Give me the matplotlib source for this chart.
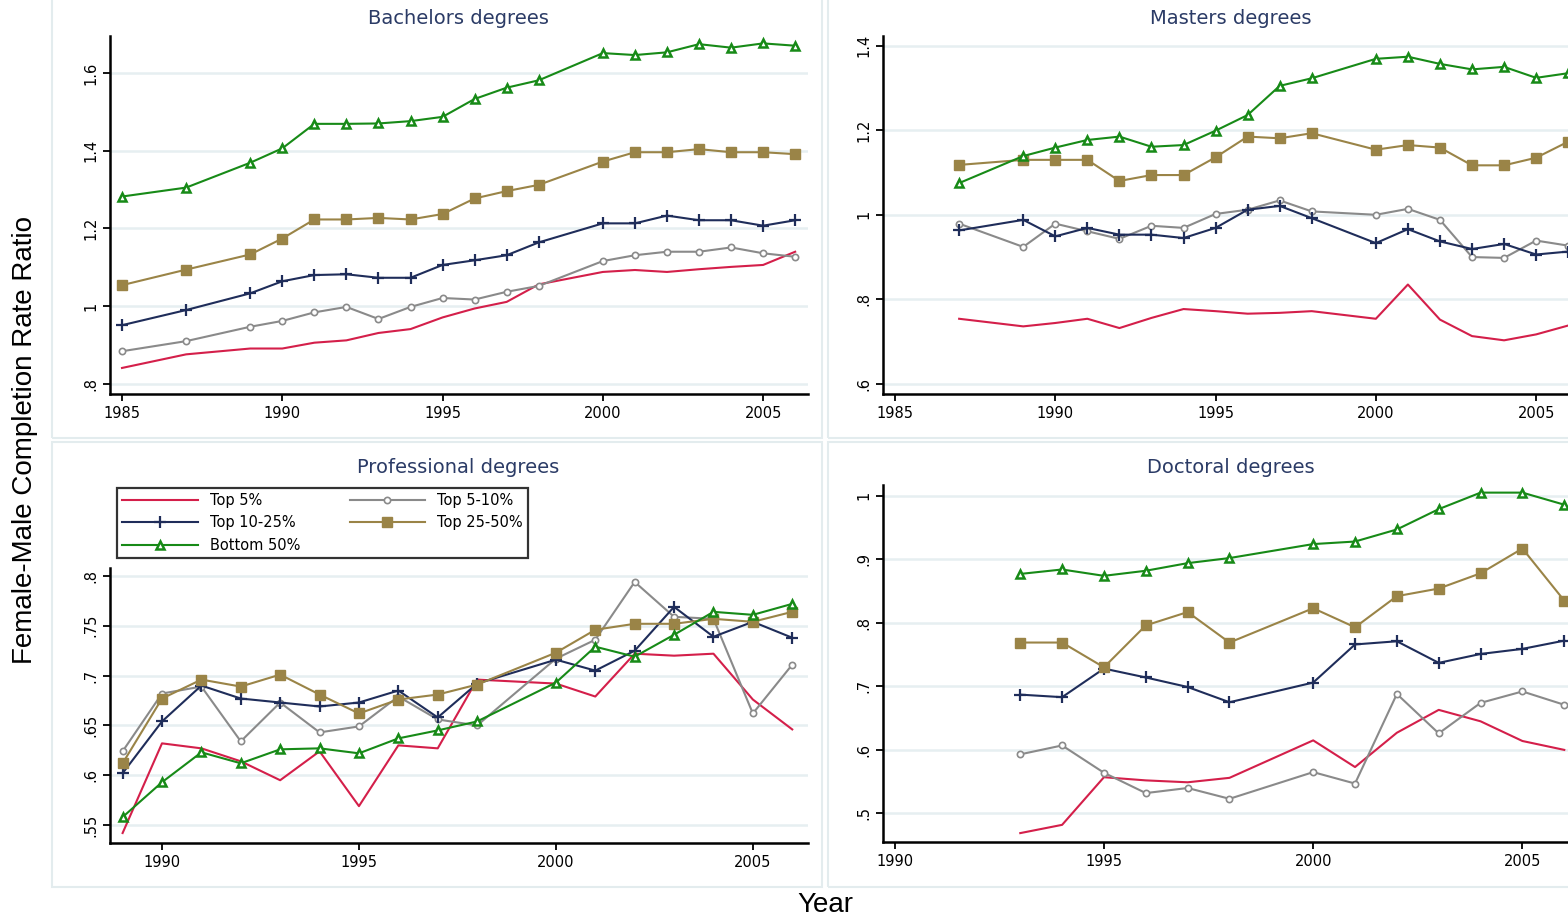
import numpy as np
import matplotlib.pyplot as plt
from matplotlib.patches import Rectangle

W, H = 1568, 922

# --- data ---
series_names = ['Top 5%', 'Top 5-10%', 'Top 10-25%', 'Top 25-50%', 'Bottom 50%']

bach_years = [1985, 1987, 1989, 1990, 1991, 1992, 1993, 1994, 1995, 1996, 1997, 1998,
              2000, 2001, 2002, 2003, 2004, 2005, 2006]
bach_top5 = [0.841, 0.876, 0.891, 0.891, 0.906, 0.912, 0.931, 0.941, 0.971, 0.994, 1.011, 1.056,
             1.088, 1.093, 1.088, 1.095, 1.101, 1.106, 1.140]
bach_top5_10 = [0.884, 0.910, 0.947, 0.962, 0.984, 0.998, 0.967, 0.998, 1.021, 1.017, 1.037, 1.052,
                1.116, 1.131, 1.140, 1.140, 1.151, 1.136, 1.127]
bach_top10_25 = [0.951, 0.990, 1.033, 1.064, 1.080, 1.082, 1.073, 1.073, 1.106, 1.118, 1.131, 1.164,
                 1.213, 1.213, 1.233, 1.221, 1.221, 1.207, 1.221]
bach_top25_50 = [1.054, 1.094, 1.133, 1.174, 1.223, 1.223, 1.227, 1.223, 1.237, 1.277, 1.296, 1.312,
                 1.372, 1.396, 1.396, 1.404, 1.396, 1.396, 1.391]
bach_bottom50 = [1.282, 1.305, 1.369, 1.406, 1.469, 1.469, 1.470, 1.476, 1.487, 1.533, 1.562, 1.581,
                 1.651, 1.646, 1.653, 1.674, 1.665, 1.676, 1.670]

mast_years = [1987, 1989, 1990, 1991, 1992, 1993, 1994, 1995, 1996, 1997, 1998,
              2000, 2001, 2002, 2003, 2004, 2005, 2006]
mast_top5 = [0.754, 0.736, 0.744, 0.754, 0.732, 0.756, 0.777, 0.772, 0.766, 0.768, 0.772,
             0.754, 0.835, 0.752, 0.713, 0.703, 0.717, 0.738]
mast_top5_10 = [0.979, 0.924, 0.979, 0.961, 0.943, 0.974, 0.969, 1.002, 1.012, 1.034, 1.008,
                1.000, 1.014, 0.988, 0.900, 0.898, 0.939, 0.927]
mast_top10_25 = [0.963, 0.988, 0.949, 0.969, 0.953, 0.953, 0.945, 0.969, 1.012, 1.021, 0.992,
                 0.933, 0.966, 0.937, 0.919, 0.931, 0.906, 0.913]
mast_top25_50 = [1.118, 1.130, 1.130, 1.130, 1.080, 1.094, 1.094, 1.136, 1.185, 1.181, 1.193,
                 1.154, 1.165, 1.159, 1.117, 1.117, 1.135, 1.173]
mast_bottom50 = [1.075, 1.139, 1.159, 1.177, 1.185, 1.161, 1.165, 1.199, 1.236, 1.305, 1.323,
                 1.369, 1.374, 1.357, 1.344, 1.350, 1.324, 1.335]

prof_years = [1989, 1990, 1991, 1992, 1993, 1994, 1995, 1996, 1997, 1998,
              2000, 2001, 2002, 2003, 2004, 2005, 2006]
prof_top5 = [0.542, 0.632, 0.627, 0.614, 0.595, 0.624, 0.569, 0.630, 0.627, 0.696,
             0.692, 0.679, 0.722, 0.720, 0.722, 0.676, 0.646]
prof_top5_10 = [0.624, 0.682, 0.689, 0.634, 0.673, 0.643, 0.649, 0.679, 0.656, 0.650,
                0.717, 0.736, 0.794, 0.759, 0.757, 0.662, 0.711]
prof_top10_25 = [0.602, 0.654, 0.690, 0.677, 0.673, 0.669, 0.673, 0.685, 0.658, 0.692,
                 0.716, 0.705, 0.725, 0.769, 0.739, 0.754, 0.738]
prof_top25_50 = [0.612, 0.677, 0.696, 0.689, 0.701, 0.681, 0.662, 0.676, 0.681, 0.691,
                 0.723, 0.746, 0.752, 0.752, 0.757, 0.754, 0.764]
prof_bottom50 = [0.558, 0.593, 0.623, 0.612, 0.626, 0.627, 0.622, 0.637, 0.645, 0.654,
                 0.693, 0.729, 0.719, 0.741, 0.764, 0.761, 0.772]

doc_years = [1993, 1994, 1995, 1996, 1997, 1998, 2000, 2001, 2002, 2003, 2004, 2005, 2006]
doc_top5 = [0.469, 0.482, 0.557, 0.552, 0.549, 0.556, 0.615, 0.573, 0.627, 0.663, 0.645, 0.614, 0.600]
doc_top5_10 = [0.593, 0.607, 0.564, 0.532, 0.540, 0.523, 0.565, 0.547, 0.688, 0.626, 0.674, 0.692, 0.671]
doc_top10_25 = [0.687, 0.683, 0.728, 0.714, 0.699, 0.675, 0.706, 0.766, 0.771, 0.737, 0.751, 0.759, 0.772]
doc_top25_50 = [0.769, 0.769, 0.730, 0.796, 0.817, 0.769, 0.823, 0.793, 0.842, 0.854, 0.878, 0.917, 0.835]
doc_bottom50 = [0.877, 0.884, 0.874, 0.882, 0.894, 0.902, 0.924, 0.928, 0.947, 0.979, 1.005, 1.005, 0.986]

bach_ticks = [0.8, 1.0, 1.2, 1.4, 1.6]
bach_labels = ['.8', '1', '1.2', '1.4', '1.6']
mast_ticks = [0.6, 0.8, 1.0, 1.2, 1.4]
mast_labels = ['.6', '.8', '1', '1.2', '1.4']
prof_ticks = [0.55, 0.6, 0.65, 0.7, 0.75, 0.8]
prof_labels = ['.55', '.6', '.65', '.7', '.75', '.8']
doc_ticks = [0.5, 0.6, 0.7, 0.8, 0.9, 1.0]
doc_labels = ['.5', '.6', '.7', '.8', '.9', '1']

# --- styles (stata-like) ---
styles = [
    dict(color='#d41f4a', marker=None),
    dict(color='#8a8a8a', marker='o', ms=4.5, mfc='white', mew=1.2),
    dict(color='#1f2d5a', marker='+', ms=8.5, mew=1.6),
    dict(color='#9a8447', marker='s', ms=6.5),
    dict(color='#178a17', marker='^', ms=6, mfc='white', mew=1.8),
]

plt.rcParams['font.family'] = ['DejaVu Sans']

fig = plt.figure(figsize=(W / 100, H / 100), dpi=100)


def px_rect(l, t, r, b):
    return [l / W, 1 - b / H, (r - l) / W, (b - t) / H]


# light panel frames (behind the axes)
for (l, t, r, b) in [(52, -10, 822, 438), (828, -10, 1620, 438),
                     (52, 442, 822, 887), (828, 442, 1620, 887)]:
    fig.patches.append(Rectangle((l / W, 1 - b / H), (r - l) / W, (b - t) / H,
                                 transform=fig.transFigure, facecolor='none',
                                 edgecolor='#e3ecee', lw=1.5, zorder=-1))

panels = [
    ('Bachelors degrees', (110, 36, 808, 394), bach_years,
     [bach_top5, bach_top5_10, bach_top10_25, bach_top25_50, bach_bottom50],
     (1984.625, 2006.4), (0.774, 1.695), [1985, 1990, 1995, 2000, 2005], bach_ticks, bach_labels, 18),
    ('Masters degrees', (883, 36, 1581, 394), mast_years,
     [mast_top5, mast_top5_10, mast_top10_25, mast_top25_50, mast_bottom50],
     (1984.625, 2006.4), (0.576, 1.423), [1985, 1990, 1995, 2000, 2005], mast_ticks, mast_labels, 18),
    ('Professional degrees', (110, 568, 808, 843), prof_years,
     [prof_top5, prof_top5_10, prof_top10_25, prof_top25_50, prof_bottom50],
     (1988.68, 2006.4), (0.532, 0.808), [1990, 1995, 2000, 2005], prof_ticks, prof_labels, 467),
    ('Doctoral degrees', (883, 485, 1581, 842), doc_years,
     [doc_top5, doc_top5_10, doc_top10_25, doc_top25_50, doc_bottom50],
     (1989.72, 2006.4), (0.455, 1.017), [1990, 1995, 2000, 2005], doc_ticks, doc_labels, 467),
]

prof_lines = []
for title, box, years, data, xlim, ylim, xt, yt, ytl, title_y in panels:
    ax = fig.add_axes(px_rect(*box))
    ax.set_facecolor('none')
    lines = []
    for vals, st in zip(data, styles):
        ln, = ax.plot(years, vals, lw=1.5, clip_on=False, **st)
        lines.append(ln)
    if title.startswith('Prof'):
        prof_lines = lines
    ax.set_xlim(*xlim)
    ax.set_ylim(*ylim)
    ax.set_xticks(xt)
    ax.set_yticks(yt)
    ax.set_yticklabels(ytl, rotation=90, va='center')
    ax.tick_params(labelsize=10.5, width=1.3, length=5, direction='out', colors='black')
    ax.grid(axis='y', color='#e6eff1', lw=1.8)
    ax.set_axisbelow(True)
    for s in ['top', 'right']:
        ax.spines[s].set_visible(False)
    for s in ['left', 'bottom']:
        ax.spines[s].set_linewidth(1.8)
    # panel title centred over the panel frame
    cx = 458 if box[0] < 500 else 1231
    fig.text(cx / W, 1 - title_y / H, title, ha='center', va='center',
             fontsize=14, color='#2b3b66')

# legend in the professional panel
order = [0, 2, 4, 1, 3]
leg = fig.legend([prof_lines[i] for i in order], [series_names[i] for i in order],
                 loc='upper left', bbox_to_anchor=(117 / W, 1 - 488 / H), ncol=2,
                 fontsize=10.5, frameon=True, fancybox=False, edgecolor='black',
                 handlelength=5.2, handletextpad=0.8, columnspacing=3.4,
                 labelspacing=0.5, borderpad=0.35, borderaxespad=0)
leg.get_frame().set_linewidth(1.6)

fig.text(25 / W, 1 - 440 / H, 'Female-Male Completion Rate Ratio', rotation=90,
         ha='center', va='center', fontsize=20, family=['Liberation Sans', 'DejaVu Sans'])
fig.text(825 / W, 1 - 905 / H, 'Year', ha='center', va='center', fontsize=20,
         family=['Liberation Sans', 'DejaVu Sans'])

fig.savefig('out.png', dpi=100)
